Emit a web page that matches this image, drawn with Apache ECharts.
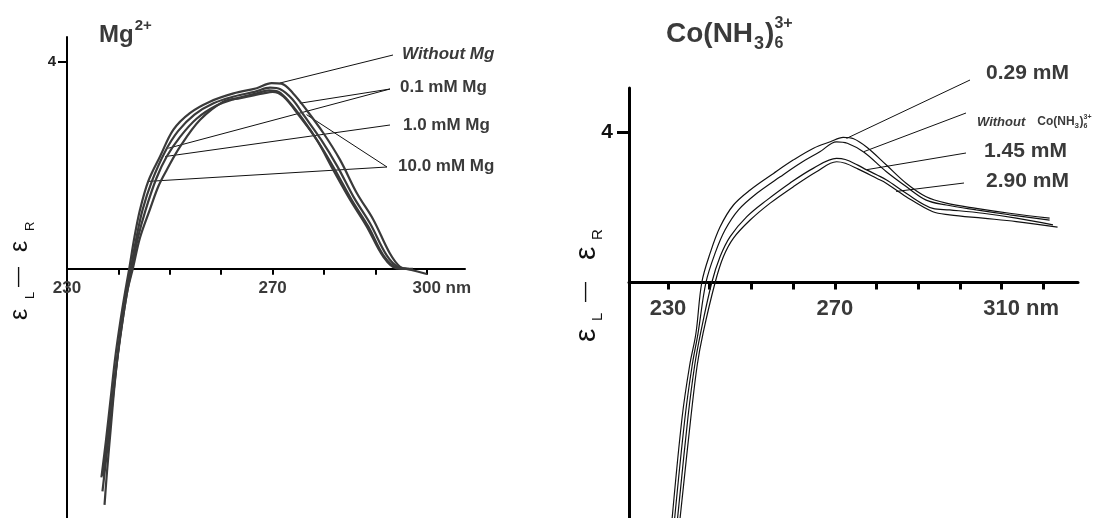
<!DOCTYPE html>
<html><head><meta charset="utf-8">
<script src="https://cdn.jsdelivr.net/npm/echarts@6/dist/echarts.min.js"></script>
<style>html,body{margin:0;padding:0;background:#fff}#c{width:1113px;height:518px}</style>
</head><body><div id="c"></div>
<script>
// ---------- Left panel (Mg2+) data: [wavelength nm, eps_L - eps_R] ----------
const mgNone = [[236.7,-4.03],[237.6,-3.3],[238.5,-2.5],[239.4,-1.7],[240.4,-1.0],[241.3,-0.45],[242.1,0],[243.1,0.6],[244.2,1.14],[245.8,1.69],[248.1,2.17],[250.7,2.69],[253.9,3.01],[257.8,3.23],[262.4,3.39],[266.9,3.49],[269.8,3.59],[271.7,3.58],[274.0,3.39],[276.6,3.07],[279.9,2.62],[283.1,2.11],[286.4,1.46],[289.6,0.95],[292.8,0.30],[294.8,0.04],[297.0,-0.02],[300.0,-0.1]];
const mg01 = [[237.3,-4.56],[237.8,-3.9],[238.5,-3.1],[239.3,-2.2],[240.3,-1.3],[241.3,-0.6],[242.4,0],[243.5,0.6],[244.7,1.14],[246.5,1.69],[249.0,2.25],[251.6,2.66],[254.8,2.98],[258.5,3.2],[262.5,3.33],[266.5,3.42],[269.5,3.5],[271.5,3.47],[273.8,3.28],[276.2,2.95],[279.4,2.5],[282.6,1.98],[285.8,1.38],[289.0,0.87],[292.2,0.26],[294.5,0.03],[296.5,0]];
const mg10 = [[236.9,-4.3],[237.7,-3.6],[238.6,-2.8],[239.6,-1.9],[240.6,-1.15],[241.6,-0.5],[242.6,0],[243.8,0.6],[245.3,1.14],[247.4,1.75],[249.4,2.17],[252.0,2.55],[255.2,2.9],[259.0,3.15],[262.5,3.28],[266.5,3.38],[269.3,3.45],[271.2,3.42],[273.3,3.22],[275.8,2.9],[278.9,2.45],[282.1,1.92],[285.4,1.33],[288.6,0.82],[291.7,0.24],[294.2,0.02],[296.0,0]];
const mg100 = [[237.0,-4.0],[237.9,-3.3],[238.8,-2.5],[239.8,-1.7],[240.8,-1.0],[241.8,-0.4],[242.8,0],[244.2,0.6],[246.1,1.14],[247.8,1.6],[249.4,1.91],[252.0,2.36],[255.9,2.88],[260.4,3.23],[263.7,3.30],[268.2,3.39],[270.0,3.42],[272.1,3.33],[275.3,2.94],[278.6,2.49],[281.8,1.91],[285.1,1.33],[288.3,0.82],[291.5,0.24],[294.1,0.01],[297.3,0]];

// ---------- Right panel (Co(NH3)6 3+) data ----------
const co029 = [[231.0,-6.26],[233.4,-3.57],[235.2,-2.2],[236.7,-1.35],[238.1,0],[240.1,0.78],[242.5,1.48],[245.7,2.06],[249.7,2.46],[255.3,2.9],[260.1,3.26],[264.9,3.57],[268.9,3.74],[272.0,3.86],[274.5,3.82],[277.6,3.6],[282.3,3.13],[287.1,2.64],[291.9,2.28],[296.7,2.11],[303.9,1.97],[311.9,1.84],[321.5,1.71]];
const coNone = [[231.6,-6.26],[234.1,-3.57],[235.8,-2.2],[237.2,-1.35],[239.1,0],[241.3,0.78],[243.7,1.40],[246.9,1.93],[251.3,2.37],[256.9,2.81],[261.7,3.17],[266.5,3.48],[270.4,3.74],[273.0,3.7],[277.0,3.46],[282.3,2.95],[287.1,2.55],[291.9,2.19],[296.7,2.06],[303.9,1.93],[311.9,1.80],[321.5,1.66]];
const co145 = [[232.3,-6.26],[234.8,-3.57],[236.4,-2.2],[237.8,-1.35],[240.5,0],[242.5,0.69],[244.9,1.22],[248.9,1.75],[253.7,2.19],[259.2,2.64],[264.9,3.04],[270.4,3.30],[272.5,3.27],[275.5,3.12],[277.5,3.0],[282.3,2.73],[287.1,2.37],[293.5,1.97],[297.5,1.93],[305.5,1.84],[313.5,1.71],[322.3,1.53]];
const co290 = [[232.9,-6.26],[235.5,-3.57],[237.0,-2.2],[238.4,-1.35],[241.3,0],[243.3,0.69],[245.7,1.18],[249.7,1.66],[254.5,2.11],[260.1,2.55],[265.7,2.95],[270.4,3.21],[272.5,3.17],[275.5,3.02],[280.0,2.77],[282.3,2.64],[287.1,2.28],[293.5,1.88],[297.5,1.80],[305.5,1.71],[313.5,1.62],[323.4,1.47]];

// ---------- Axis ticks / labels ----------
const leftTicks = [230,240,250,260,270,280,290,300];
const leftTickLabels = [230,270,300];
const rightTicks = [230,240,250,260,270,280,290,300,310,320];
const rightTickLabels = [230,270,310];
const yTickValues = [4];
const unitSuffix = 'nm';

// ---------- Callout annotations: label text + point on curve (data units) ----------
const leftNames = ['Without Mg','0.1 mM Mg','1.0 mM Mg','10.0 mM Mg'];
const leftCurvePts = [[[271.4,3.59]],[[275.3,3.2],[249.7,2.33]],[[249.1,2.17]],[[245.8,1.69],[276.6,2.98]]];
const rightNames = ['0.29 mM','Without','1.45 mM','2.90 mM'];
const rightCurvePts = [[[272.8,3.83]],[[277.0,3.48]],[[277.7,3.0]],[[284.7,2.42]]];

const FONT = '"Liberation Sans", Arial, sans-serif';
const TXT = '#3a3a3a';
const LX = {min:230, max:307.43}, LY = {min:-4.815, max:4.48};
const RX = {min:220.65, max:328.3}, RY = {min:-6.26, max:5.17};

const chart = echarts.init(document.getElementById('c'), null, {renderer:'canvas'});

function lineSeries(data, xi, w, color){
  return {type:'line', xAxisIndex:xi, yAxisIndex:xi, data:data, showSymbol:false, smooth:0.35,
    lineStyle:{color:color, width:w}, silent:true, clip:true};
}
function xLabelFmt(last){
  return function(v){ return v===last ? '{sp|}{v|'+v+' '+unitSuffix+'}' : '{v|'+v+'}'; };
}
function xAxisOpt(gi, rng, ticks, labels, last, lw, tl, fs, sp, margin, offset){
  return {gridIndex:gi, type:'value', min:rng.min, max:rng.max, position:'bottom', offset:offset,
    axisLine:{onZero:false, lineStyle:{color:'#000', width:lw}},
    axisTick:{show:true, customValues:ticks, length:tl, lineStyle:{color:'#000', width:lw}},
    axisLabel:{customValues:labels, margin:margin, formatter:xLabelFmt(last),
      rich:{v:{fontSize:fs, fontWeight:'bold', color:TXT, fontFamily:FONT}, sp:{width:sp}}},
    splitLine:{show:false}};
}
function buildX(offL, offR){
  return [
    xAxisOpt(0, LX, leftTicks, leftTickLabels, 300, 2, 6, 17, 30, 11, offL),
    xAxisOpt(1, RX, rightTicks, rightTickLabels, 310, 3, 7, 22, 39, 15, offR)
  ];
}

chart.setOption({
  animation:false,
  grid:[
    {left:67, top:37, width:398, bottom:0, containLabel:false, outerBoundsMode:'none'},
    {left:629, top:88, width:449, bottom:0, containLabel:false, outerBoundsMode:'none'}
  ],
  xAxis: buildX(0,0),
  yAxis:[
    {gridIndex:0, type:'value', min:LY.min, max:LY.max,
      axisLine:{show:true, onZero:false, lineStyle:{color:'#000', width:2}},
      axisTick:{show:true, customValues:yTickValues, length:9, lineStyle:{color:'#000', width:2}},
      axisLabel:{customValues:yTickValues, margin:11, fontSize:15, fontWeight:'bold', color:'#222', fontFamily:FONT},
      splitLine:{show:false}},
    {gridIndex:1, type:'value', min:RY.min, max:RY.max,
      axisLine:{show:true, onZero:false, lineStyle:{color:'#000', width:3}},
      axisTick:{show:true, customValues:yTickValues, length:12, lineStyle:{color:'#000', width:3}},
      axisLabel:{customValues:yTickValues, margin:16, fontSize:21, fontWeight:'bold', color:'#111', fontFamily:FONT},
      splitLine:{show:false}}
  ],
  series:[
    lineSeries(mgNone,0,2.2,'#3a3a3a'),
    lineSeries(mg01,0,2.2,'#3a3a3a'),
    lineSeries(mg10,0,2.2,'#3a3a3a'),
    lineSeries(mg100,0,2.2,'#3a3a3a'),
    lineSeries(co029,1,1.2,'#111'),
    lineSeries(coNone,1,1.2,'#111'),
    lineSeries(co145,1,1.2,'#111'),
    lineSeries(co290,1,1.2,'#111')
  ]
});

// Move each x axis (line, ticks, labels) up to the y = 0 level using the library's own scale
(function(){
  const zL = chart.convertToPixel({gridIndex:0}, [LX.min, 0])[1];
  const bL = chart.convertToPixel({gridIndex:0}, [LX.min, LY.min])[1];
  const zR = chart.convertToPixel({gridIndex:1}, [RX.min, 0])[1];
  const bR = chart.convertToPixel({gridIndex:1}, [RX.min, RY.min])[1];
  chart.setOption({xAxis: buildX(zL - bL, zR - bR)});
})();

// ---------- Text helpers ----------
const mctx = document.createElement('canvas').getContext('2d');
function tw(font, s){ mctx.font = font; return mctx.measureText(s).width; }
function font(sz, w, st){ return (st||'normal')+' '+(w||'bold')+' '+sz+'px '+FONT; }
function T(s, x, y, sz, opt){
  opt = opt||{};
  return {type:'text', x:x, y:y, silent:true,
    style:{text:s, font:font(sz, opt.w, opt.st), fill:opt.fill||TXT, align:opt.align||'left', verticalAlign:'middle'}};
}
const G = [];

// Titles
G.push(T('Mg', 99, 35, 24));
G.push(T('2+', 99+tw(font(24),'Mg')+1, 26, 15));
(function(){
  let x = 666; const y = 34;
  G.push(T('Co(NH', x, y, 28)); x += tw(font(28),'Co(NH') + 1;
  G.push(T('3', x, y+10, 18)); x += tw(font(18),'3') + 1;
  G.push(T(')', x, y, 28)); x += tw(font(28),')');
  G.push(T('6', x, y+10, 16));
  G.push(T('3+', x, y-10, 16));
})();

// Y-axis names (rotated, reading bottom to top)
function yName(px, py, big, small, dsh, sub, offs){
  const children = [
    {type:'text', x:offs[0], y:0, style:{text:'\u03b5', font:font(big,'normal'), fill:'#111', verticalAlign:'middle'}},
    {type:'text', x:offs[1], y:sub, style:{text:'L', font:font(small,'normal'), fill:'#111', verticalAlign:'middle'}},
    {type:'text', x:offs[2], y:-2, style:{text:'\u2014', font:font(dsh,'normal'), fill:'#111', verticalAlign:'middle'}},
    {type:'text', x:offs[3], y:0, style:{text:'\u03b5', font:font(big,'normal'), fill:'#111', verticalAlign:'middle'}},
    {type:'text', x:offs[4], y:sub, style:{text:'R', font:font(small,'normal'), fill:'#111', verticalAlign:'middle'}}
  ];
  return {type:'group', x:px, y:py, rotation:Math.PI/2, silent:true, children:children};
}
G.push(yName(20, 320, 25, 13, 20, 10, [0, 21, 33, 68, 89]));
G.push(yName(587, 342, 30, 15, 20, 11, [0, 21, 40, 82, 102]));

// Left callout labels
const leftLabelPos = [[402,54],[400,87],[403,125],[398,166]];
const leftAnchor = [[393,55],[390,89],[390,125],[387,167]];
leftNames.forEach(function(n,i){
  G.push(T(n, leftLabelPos[i][0], leftLabelPos[i][1], 17, i===0?{st:'italic'}:{}));
  leftCurvePts[i].forEach(function(p){
    const q = chart.convertToPixel({gridIndex:0}, p);
    G.push({type:'line', silent:true, shape:{x1:leftAnchor[i][0], y1:leftAnchor[i][1], x2:q[0], y2:q[1]}, style:{stroke:'#111', lineWidth:1}});
  });
});

// Right callout labels
const rightLabelPos = [[986,73],[977,122],[984,151],[986,181]];
const rightAnchor = [[970,80],[966,113],[966,153],[964,183]];
rightNames.forEach(function(n,i){
  if(i===1){
    let x = rightLabelPos[i][0]; const y = rightLabelPos[i][1];
    G.push(T('Without', x, y, 13, {st:'italic'}));
    x += tw(font(13,'bold','italic'),'Without') + 12;
    G.push(T('Co(NH', x, y, 12)); x += tw(font(12),'Co(NH');
    G.push(T('3', x, y+4, 8)); x += tw(font(8),'3') + 0.5;
    G.push(T(')', x, y, 12)); x += tw(font(12),')');
    G.push(T('6', x, y+4, 7));
    G.push(T('3+', x, y-5, 7));
  } else {
    G.push(T(n, rightLabelPos[i][0], rightLabelPos[i][1], 21));
  }
  rightCurvePts[i].forEach(function(p){
    const q = chart.convertToPixel({gridIndex:1}, p);
    G.push({type:'line', silent:true, shape:{x1:rightAnchor[i][0], y1:rightAnchor[i][1], x2:q[0], y2:q[1]}, style:{stroke:'#111', lineWidth:1}});
  });
});

chart.setOption({graphic:G});
</script></body></html>
